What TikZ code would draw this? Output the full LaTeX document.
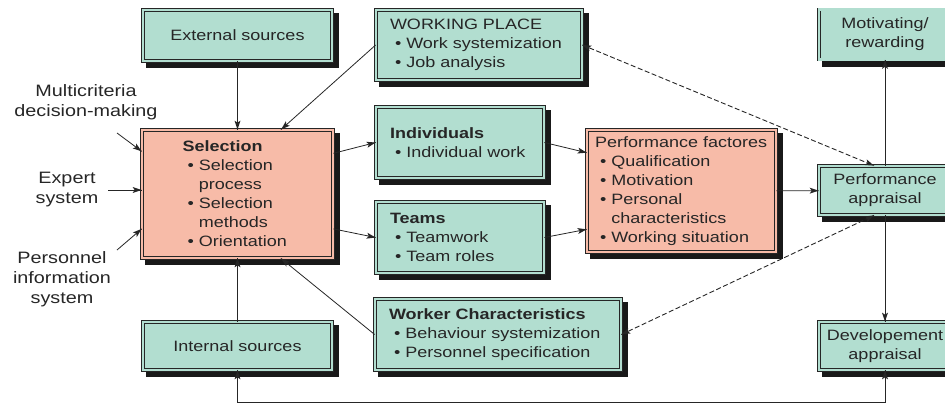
\documentclass[tikz,border=0pt]{standalone}
\usepackage{fontspec}
\setmainfont{Liberation Sans}[FakeStretch=1.2]
\usetikzlibrary{decorations.markings}
\definecolor{boxteal}{RGB}{178,222,208}
\definecolor{boxsalmon}{RGB}{247,187,168}
% bullet item and its continuation line
\newcommand{\itm}[1]{\mbox{\hspace*{5pt}\textbullet\hspace{5pt}#1}}
\newcommand{\cnt}[1]{\mbox{\hspace*{5pt}\phantom{\textbullet}\hspace{5pt}#1}}

\begin{document}
\begin{tikzpicture}[
            x=1pt, y=-1pt,
            every node/.style={font=\fontsize{15}{19}\selectfont},
            box/.style={rectangle, draw=black!85, line width=0.7pt, double=boxteal, double distance=2.4pt, fill=boxteal,
                text=black!85, inner sep=0pt, align=center},
            hot/.style={fill=boxsalmon, double=boxsalmon},
            listbox/.style={align=left, inner xsep=14pt},
            side/.style={align=center, text=black!85, font=\fontsize{16.5}{20}\selectfont},
            shade/.style={fill=black!90},
            % arrow heads drawn as small filled triangles
            head end/.style={postaction={decorate, decoration={markings,
                mark=at position 1 with {\fill[black!85] (-9pt,3pt) -- (0pt,0pt) -- (-9pt,-3pt) -- (-7pt,0pt) -- cycle;}}}},
            head start/.style={postaction={decorate, decoration={markings,
                mark=at position 0 with {\fill[black!85] (9pt,3pt) -- (0pt,0pt) -- (9pt,-3pt) -- (7pt,0pt) -- cycle;}}}},
            conn/.style={draw=black!85, line width=0.8pt, head end},
            feedback/.style={conn, head start, line width=0.9pt, dash pattern=on 5pt off 2.5pt}
        ]
        \useasboundingbox (0,0) rectangle (945,405);
        \clip (0,0) rectangle (945,405);

        % Shadows
        \fill[shade] (146,13) rectangle (339,68);
        \fill[shade] (146,325) rectangle (339,377);
        \fill[shade] (145,133) rectangle (340,265);
        \fill[shade] (379,13) rectangle (589,87);
        \fill[shade] (379,110) rectangle (551,185);
        \fill[shade] (379,205) rectangle (551,280);
        \fill[shade] (378,302) rectangle (628,377);
        \fill[shade] (590,133) rectangle (783,259);
        \fill[shade] (822,169) rectangle (958,222);
        \fill[shade] (822,12.5) rectangle (958,66.5);
        \fill[shade] (822,325) rectangle (958,377);

        % Sources
        \node[box, minimum width=189pt, minimum height=51pt] (ext) at (237.5,35.5) {External sources};
        \node[box, minimum width=189pt, minimum height=48pt] (int) at (237.5,346) {Internal sources};

        % Selection
        \node[box, hot, align=left, text width=110pt, minimum width=191pt, minimum height=128pt] (sel) at (237.5,194)
            {\textbf{Selection}\\ \itm{Selection}\\ \cnt{process}\\ \itm{Selection}\\ \cnt{methods}\\ \itm{Orientation}};

        % Inputs to selection
        \node[side] (mcdm) at (86,102) {Multicriteria\\decision-making};
        \node[side] (expert) at (67,190) {Expert\\system};
        \node[side] (pis) at (62,279) {Personnel\\information\\system};
        \coordinate (m1) at (117,133);
        \coordinate (e1) at (108,190);
        \coordinate (p1) at (117,250);

        % Work analysis
        \node[box, listbox, text width=178pt, minimum width=206pt, minimum height=70pt] (wp) at (479,45)
            {WORKING PLACE\\ \itm{Work systemization}\\ \itm{Job analysis}};
        \node[box, listbox, text width=140pt, minimum width=168pt, minimum height=71pt] (ind) at (460,142.5)
            {\textbf{Individuals}\\ \itm{Individual work}};
        \node[box, listbox, text width=140pt, minimum width=168pt, minimum height=71pt] (teams) at (460,237.5)
            {\textbf{Teams}\\ \itm{Teamwork}\\ \itm{Team roles}};
        \node[box, listbox, text width=218pt, minimum width=246pt, minimum height=71pt] (wc) at (498,334.5)
            {\textbf{Worker Characteristics}\\ \itm{Behaviour systemization}\\ \itm{Personnel specification}};

        % Performance
        \node[box, hot, listbox, inner xsep=8pt, text width=173pt, minimum width=189pt, minimum height=122pt] (pf) at (681.5,191)
            {Performance factores\\ \itm{Qualification}\\ \itm{Motivation}\\ \itm{Personal}\\ \cnt{characteristics}\\ \itm{Working situation}};
        \node[box, minimum width=132pt, minimum height=49pt] (pa) at (885,190.5) {Performance\\appraisal};
        \node[box, minimum width=132pt, minimum height=50pt] (mot) at (885,34.5) {Motivating/\\rewarding};
        \node[box, minimum width=132pt, minimum height=48pt] (dev) at (885,346) {Developement\\appraisal};

        % Connections into selection
        \draw[conn] (ext) -- (sel);
        \draw[conn] (int) -- (sel);
        \draw[conn] (m1) -- (sel.156);
        \draw[conn] (e1) -- (e1 -| sel.west);
        \draw[conn] (p1) -- (sel.200);
        \draw[conn] (wp.west) -- (sel.56);
        \draw[conn] (wc.west) -- (sel.-56);

        % Selection to people
        \draw[conn] (sel.23) -- (ind.west);
        \draw[conn] (sel.-20) -- (teams.west);

        % People to performance
        \draw[conn] (ind.east) -- (pf.158);
        \draw[conn] (teams.east) -- (pf.202);
        \draw[conn] (pf) -- (pa);
        \draw[conn] (pa) -- (mot);
        \draw[conn] (pa) -- (dev);

        % Feedback
        \draw[feedback] (wp.east) -- (pa.114);
        \draw[feedback] (wc.east) -- (pa.-114);
        \draw[conn, head start] (int.south) -- ++(0,32) -| (dev.south);

    \end{tikzpicture}
\end{document}
